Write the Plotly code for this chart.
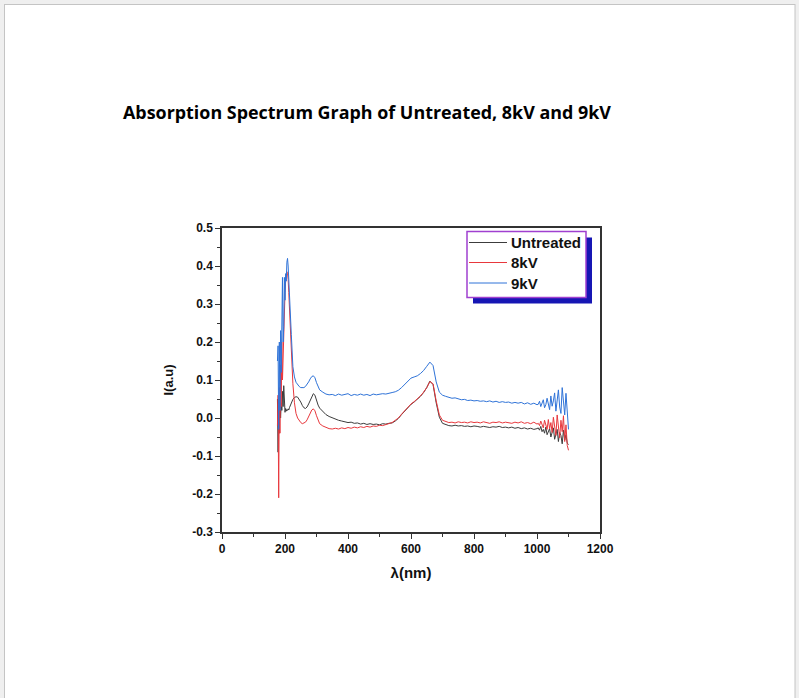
import plotly.graph_objects as go

# wavelength sampling grid (nm)
wavelength = [
    176, 178, 180, 182, 184, 186, 188, 190, 192, 194, 196, 198, 200, 202, 204, 206, 208, 210, 212, 214, 216, 218, 220,
    225, 230, 235, 240, 245, 250, 255, 260, 265, 270, 275, 280, 285, 290, 295, 300, 305, 310,
    320, 330, 340, 350, 360, 370, 380, 390, 400,
    410, 420, 430, 440, 450, 460, 470, 480, 490, 500,
    510, 520, 530, 540, 550, 560, 570, 580, 590, 600,
    610, 620, 630, 640, 650, 660, 670, 680, 690, 700,
    710, 720, 730, 740, 750, 760, 770, 780, 790, 800,
    810, 820, 830, 840, 850, 860, 870, 880, 890, 900,
    910, 920, 930, 940, 950, 960, 970, 980, 990, 1000,
    1004, 1008, 1012, 1016, 1020, 1024, 1028, 1032, 1036, 1040, 1044, 1048, 1052,
    1056, 1060, 1064, 1068, 1072, 1076, 1080, 1084, 1088, 1092, 1096, 1100,
]

untreated = [
    0.050, -0.090, 0.030, -0.040, 0.060, 0.000, 0.040, 0.020, 0.070, 0.030, 0.085, 0.020, 0.015, 0.025, 0.018, 0.022, 0.020, 0.024, 0.021, 0.027, 0.031, 0.036, 0.041,
    0.049, 0.054, 0.056, 0.055, 0.050, 0.042, 0.033, 0.027, 0.025, 0.029, 0.037, 0.047, 0.057, 0.064, 0.060, 0.046, 0.034, 0.026,
    0.016, 0.009, 0.004, 0.000, -0.003, -0.006, -0.008, -0.010, -0.012,
    -0.011, -0.014, -0.013, -0.016, -0.014, -0.017, -0.015, -0.017, -0.016, -0.018,
    -0.015, -0.016, -0.014, -0.013, -0.008, -0.001, 0.009, 0.019, 0.029, 0.036,
    0.042, 0.049, 0.057, 0.067, 0.080, 0.097, 0.088, 0.040, 0.002, -0.014,
    -0.018, -0.020, -0.021, -0.019, -0.021, -0.020, -0.022, -0.021, -0.023, -0.021,
    -0.022, -0.024, -0.022, -0.023, -0.025, -0.023, -0.024, -0.022, -0.025, -0.024,
    -0.026, -0.024, -0.027, -0.025, -0.028, -0.026, -0.029, -0.027, -0.030, -0.028,
    -0.026, -0.032, -0.022, -0.036, -0.030, -0.040, -0.024, -0.044, -0.034, -0.028, -0.050, -0.036, -0.026,
    -0.056, -0.040, -0.030, -0.062, -0.038, -0.046, -0.068, -0.032, -0.058, -0.044, -0.066, -0.070,
]

kv8 = [
    -0.020, 0.060, -0.210, 0.080, -0.040, 0.140, 0.030, 0.200, 0.100, 0.180, 0.240, 0.290, 0.330, 0.360, 0.380, 0.385, 0.380, 0.365, 0.330, 0.290, 0.250, 0.210, 0.170,
    0.090, 0.040, 0.012, 0.000, -0.008, -0.012, -0.015, -0.014, -0.011, -0.005, 0.004, 0.013, 0.021, 0.024, 0.019, 0.006, -0.007, -0.015,
    -0.021, -0.025, -0.028, -0.029, -0.027, -0.029, -0.026, -0.028, -0.025,
    -0.027, -0.024, -0.026, -0.023, -0.025, -0.022, -0.024, -0.021, -0.022, -0.019,
    -0.020, -0.017, -0.015, -0.012, -0.006, 0.000, 0.010, 0.020, 0.030, 0.037,
    0.043, 0.050, 0.058, 0.068, 0.080, 0.096, 0.090, 0.045, 0.008, -0.006,
    -0.010, -0.012, -0.011, -0.013, -0.010, -0.012, -0.011, -0.013, -0.010, -0.012,
    -0.011, -0.013, -0.010, -0.012, -0.014, -0.011, -0.012, -0.010, -0.013, -0.011,
    -0.012, -0.014, -0.011, -0.013, -0.010, -0.014, -0.012, -0.015, -0.011, -0.016,
    -0.014, -0.020, -0.008, -0.018, -0.026, -0.006, -0.022, -0.030, -0.004, -0.028, -0.012, -0.038, 0.002,
    -0.020, -0.046, 0.008, -0.030, -0.052, -0.006, -0.036, 0.006, -0.062, -0.018, -0.072, -0.085,
]

kv9 = [
    0.150, 0.190, -0.030, 0.200, 0.020, 0.230, 0.120, 0.210, 0.370, 0.200, 0.240, 0.370, 0.310, 0.380, 0.360, 0.410, 0.420, 0.400, 0.370, 0.340, 0.300, 0.260, 0.220,
    0.135, 0.108, 0.094, 0.087, 0.083, 0.080, 0.079, 0.080, 0.083, 0.088, 0.095, 0.103, 0.109, 0.111, 0.106, 0.093, 0.081, 0.074,
    0.068, 0.063, 0.061, 0.062, 0.059, 0.063, 0.060, 0.062, 0.064,
    0.059, 0.062, 0.060, 0.063, 0.060, 0.062, 0.059, 0.063, 0.061, 0.062,
    0.064, 0.063, 0.066, 0.067, 0.069, 0.073, 0.080, 0.089, 0.098, 0.105,
    0.108, 0.111, 0.117, 0.125, 0.136, 0.147, 0.138, 0.095, 0.068, 0.060,
    0.057, 0.055, 0.052, 0.053, 0.050, 0.048, 0.049, 0.046, 0.047, 0.045,
    0.046, 0.044, 0.045, 0.043, 0.045, 0.042, 0.044, 0.041, 0.043, 0.041,
    0.042, 0.039, 0.041, 0.039, 0.041, 0.037, 0.040, 0.036, 0.039, 0.035,
    0.036, 0.044, 0.030, 0.041, 0.048, 0.027, 0.035, 0.052, 0.038, 0.022, 0.058, 0.031, 0.045,
    0.066, 0.018, 0.040, 0.074, 0.029, 0.012, 0.080, 0.050, 0.008, 0.065, 0.020, -0.030,
]

series_names = ["Untreated", "8kV", "9kV"]
series_values = [untreated, kv8, kv9]
series_colors = ["#3c3c3c", "#e8383d", "#2f73d8"]

x_ticks = [0, 200, 400, 600, 800, 1000, 1200]
y_ticks = [-0.3, -0.2, -0.1, 0.0, 0.1, 0.2, 0.3, 0.4, 0.5]

W, H = 799, 698
L, R, T, B = 222, 600, 228, 532


def px(xp):
    return (xp - L) / (R - L)


def py(yp):
    return (B - yp) / (B - T)


fig = go.Figure()
for name, vals, col in zip(series_names, series_values, series_colors):
    fig.add_trace(go.Scatter(x=wavelength, y=vals, mode="lines", name=name,
                             line=dict(color=col, width=1), showlegend=False))

bold = dict(family="Liberation Sans, Arial", color="#111111", weight="bold")

# legend box drawn in paper space (shadow, frame, samples, labels)
shapes = [
    dict(type="rect", xref="paper", yref="paper", x0=px(473), x1=px(592),
         y0=py(303.5), y1=py(237.5), fillcolor="#1616b4", line=dict(width=0)),
    dict(type="rect", xref="paper", yref="paper", x0=px(467), x1=px(586),
         y0=py(297.5), y1=py(231.5), fillcolor="white", line=dict(color="#a040d0", width=1.5)),
]
annotations = []
legend_rows = [242.5, 262.5, 283]
for name, col, yrow in zip(series_names, series_colors, legend_rows):
    shapes.append(dict(type="line", xref="paper", yref="paper", x0=px(469), x1=px(507),
                       y0=py(yrow), y1=py(yrow), line=dict(color=col, width=1)))
    annotations.append(dict(text=name, xref="paper", yref="paper", x=px(509), y=py(yrow),
                            xanchor="left", yanchor="middle", showarrow=False,
                            font=dict(size=15, **bold)))

# page edges
shapes += [
    dict(type="rect", xref="paper", yref="paper", x0=px(0), x1=px(W), y0=py(0), y1=py(4),
         fillcolor="#efefef", line=dict(width=0)),
    dict(type="rect", xref="paper", yref="paper", x0=px(0), x1=px(4), y0=py(0), y1=py(H),
         fillcolor="#efefef", line=dict(width=0)),
    dict(type="rect", xref="paper", yref="paper", x0=px(795), x1=px(W), y0=py(0), y1=py(H),
         fillcolor="#efefef", line=dict(width=0)),
    dict(type="line", xref="paper", yref="paper", x0=px(4), x1=px(795), y0=py(4.5), y1=py(4.5),
         line=dict(color="#c4c4c4", width=1)),
    dict(type="line", xref="paper", yref="paper", x0=px(4.5), x1=px(4.5), y0=py(4), y1=py(H),
         line=dict(color="#c4c4c4", width=1)),
    dict(type="line", xref="paper", yref="paper", x0=px(795), x1=px(795), y0=py(4), y1=py(H),
         line=dict(color="#c4c4c4", width=1)),
]

fig.update_layout(
    width=W, height=H,
    margin=dict(l=L, r=W - R, t=T, b=H - B, pad=0),
    paper_bgcolor="white", plot_bgcolor="white",
    title=dict(text="Absorption Spectrum Graph of Untreated, 8kV and 9kV",
               x=123 / W, xanchor="left", xref="container",
               y=1 - 113 / H, yanchor="middle", yref="container",
               font=dict(family="Open Sans", size=17.9, color="black", weight="bold")),
    showlegend=False,
    shapes=shapes,
    annotations=annotations,
)

fig.update_xaxes(
    range=[0, 1200], tickvals=x_ticks, ticktext=[str(v) for v in x_ticks],
    ticks="outside", ticklen=5, tickwidth=1.2, tickcolor="#333",
    minor=dict(dtick=100, tick0=0, ticks="outside", ticklen=3, tickcolor="#333", tickwidth=1),
    showline=True, linecolor="#333", linewidth=1.5, mirror=True, showgrid=False, zeroline=False,
    tickfont=dict(size=12, **bold),
    title=dict(text="λ(nm)", font=dict(size=15, **bold), standoff=12),
)
fig.update_yaxes(
    range=[-0.3, 0.5], tickvals=y_ticks, ticktext=[f"{v:.1f}" for v in y_ticks],
    ticks="outside", ticklen=5, tickwidth=1.2, tickcolor="#333",
    minor=dict(dtick=0.05, tick0=0, ticks="outside", ticklen=3, tickcolor="#333", tickwidth=1),
    showline=True, linecolor="#333", linewidth=1.5, mirror=True, showgrid=False, zeroline=False,
    tickfont=dict(size=12, **bold),
    title=dict(text="I(a.u)", font=dict(size=13, **bold), standoff=16),
)

fig.write_html("out.html")
